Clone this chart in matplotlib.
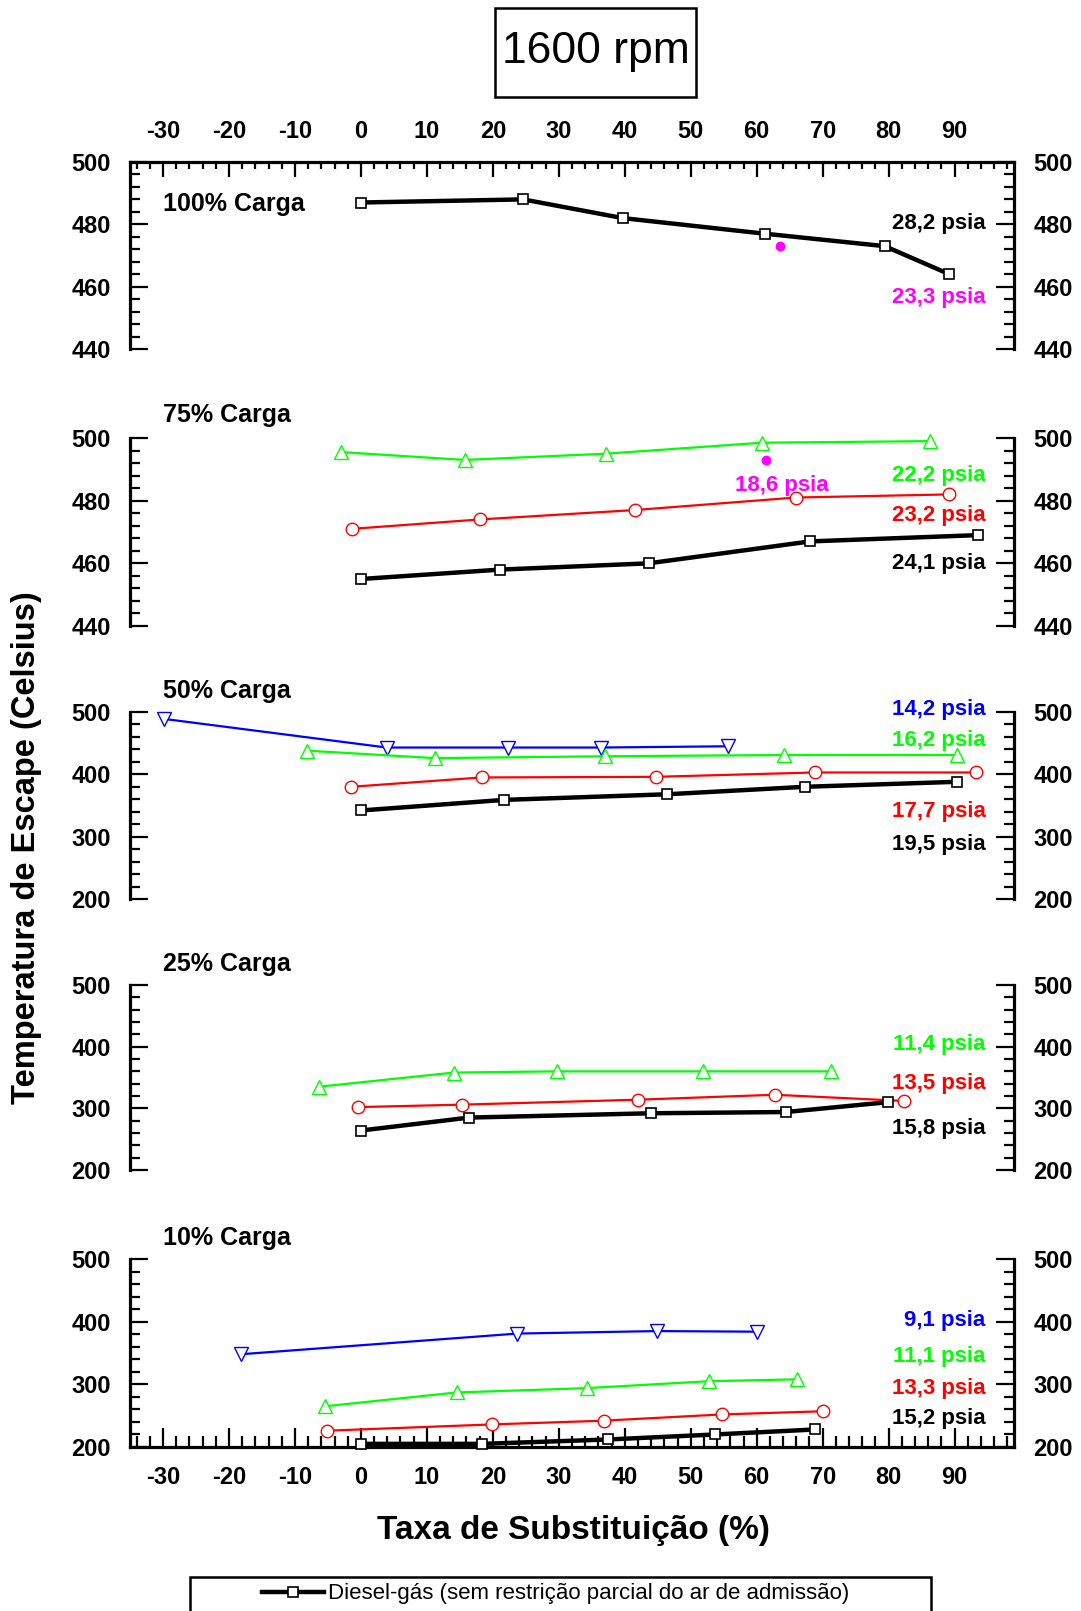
# 1600 rpm - temperatura de escape x taxa de substituicao
import matplotlib.pyplot as plt
from matplotlib.patches import Rectangle
from matplotlib.ticker import MultipleLocator
from matplotlib.lines import Line2D

plt.rcParams['font.family'] = ['Liberation Sans', 'DejaVu Sans']
plt.rcParams['axes.unicode_minus'] = False

# dados (taxa de substituicao %, temperatura C)
# 100% carga
x100_preto = [0, 24.6, 39.7, 61.2, 79.4, 89.2]
t100_preto = [487, 488, 482, 477, 473, 464]
x100_mag = [63.6]
t100_mag = [473]

# 75% carga
x75_preto = [0, 21.1, 43.6, 68.1, 93.5]
t75_preto = [455, 458, 460, 467, 469]
x75_verm = [-1.4, 18.0, 41.5, 65.9, 89.2]
t75_verm = [471, 474, 477, 481, 482]
x75_verde = [-3.0, 15.8, 37.2, 60.8, 86.2]
t75_verde = [495.5, 493, 495, 498.5, 499]
x75_mag = [61.4]
t75_mag = [493]

# 50% carga
x50_preto = [0, 21.7, 46.4, 67.3, 90.3]
t50_preto = [342, 359, 368, 380, 388]
x50_verm = [-1.5, 18.3, 44.7, 68.8, 93.3]
t50_verm = [380, 395, 396, 403, 403]
x50_verde = [-8.2, 11.2, 37.0, 64.2, 90.3]
t50_verde = [438, 426, 429, 431, 431]
x50_azul = [-29.9, 3.9, 22.3, 36.4, 55.7]
t50_azul = [489, 443, 443, 443, 445]

# 25% carga
x25_preto = [0, 16.4, 44.0, 64.4, 79.9]
t25_preto = [264, 285, 292, 294, 310]
x25_verm = [-0.4, 15.4, 42.0, 62.7, 82.3]
t25_verm = [302, 306, 314, 322, 312]
x25_verde = [-6.4, 14.1, 29.7, 51.9, 71.3]
t25_verde = [335, 358, 360, 360, 360]

# 10% carga
x10_preto = [0, 18.4, 37.5, 53.7, 68.9]
t10_preto = [205, 205, 212, 220, 228]
x10_verm = [-5.1, 19.8, 36.8, 54.8, 70.0]
t10_verm = [226, 236, 242, 252, 257]
x10_verde = [-5.4, 14.5, 34.3, 52.8, 66.1]
t10_verde = [265, 287, 294, 305, 308]
x10_azul = [-18.2, 23.7, 44.9, 60.0]
t10_azul = [348, 381, 385, 384]

cargas = ['100% Carga', '75% Carga', '50% Carga', '25% Carga', '10% Carga']
xticks = list(range(-30, 100, 10))

PRETO = 'black'
VERM = '#FF0000'
VERDE = '#00FF00'
AZUL = '#0000FF'
MAG = '#FF00FF'

paineis = [
    dict(ylim=(440, 500), yt=20, series=[('p', x100_preto, t100_preto), ('m', x100_mag, t100_mag)],
         rotulo_y=486.4,
         textos=[('28,2 psia', PRETO, 94.7, 480.4), ('23,3 psia', MAG, 94.7, 456.4)]),
    dict(ylim=(440, 500), yt=20,
         series=[('g', x75_verde, t75_verde), ('r', x75_verm, t75_verm), ('p', x75_preto, t75_preto),
                 ('m', x75_mag, t75_mag)],
         rotulo_y=507.4,
         textos=[('22,2 psia', VERDE, 94.7, 487.9), ('23,2 psia', VERM, 94.7, 475.4),
                 ('24,1 psia', PRETO, 94.7, 459.8), ('18,6 psia', MAG, 63.8, 485.0)]),
    dict(ylim=(200, 500), yt=100,
         series=[('b', x50_azul, t50_azul), ('g', x50_verde, t50_verde), ('r', x50_verm, t50_verm),
                 ('p', x50_preto, t50_preto)],
         rotulo_y=534,
         textos=[('14,2 psia', AZUL, 94.7, 504.8), ('16,2 psia', VERDE, 94.7, 455),
                 ('17,7 psia', VERM, 94.7, 341), ('19,5 psia', PRETO, 94.7, 287)]),
    dict(ylim=(200, 500), yt=100,
         series=[('g', x25_verde, t25_verde), ('r', x25_verm, t25_verm), ('p', x25_preto, t25_preto)],
         rotulo_y=534,
         textos=[('11,4 psia', VERDE, 94.7, 403), ('13,5 psia', VERM, 94.7, 341),
                 ('15,8 psia', PRETO, 94.7, 267)]),
    dict(ylim=(200, 500), yt=100,
         series=[('b', x10_azul, t10_azul), ('g', x10_verde, t10_verde), ('r', x10_verm, t10_verm),
                 ('p', x10_preto, t10_preto)],
         rotulo_y=534,
         textos=[('9,1 psia', AZUL, 94.7, 402), ('11,1 psia', VERDE, 94.7, 344),
                 ('13,3 psia', VERM, 94.7, 294), ('15,2 psia', PRETO, 94.7, 246)]),
]

estilos = {
    'p': dict(color=PRETO, lw=3.2, marker='s', ms=6.5, mfc='white', mec=PRETO, mew=1.2, zorder=5),
    'r': dict(color=VERM, lw=1.6, marker='o', ms=9, mfc='white', mec=VERM, mew=1.0, zorder=4),
    'g': dict(color=VERDE, lw=1.6, marker='^', ms=10, mfc='white', mec=VERDE, mew=1.0, zorder=3),
    'b': dict(color=AZUL, lw=1.6, marker='v', ms=10, mfc='white', mec=AZUL, mew=1.0, zorder=3),
    'm': dict(color=MAG, lw=0, marker='o', ms=6, mfc=MAG, mec=MAG, zorder=6),
}

W, H = 1081, 1611
fig = plt.figure(figsize=(W / 100, H / 100), dpi=100)

topos = [162, 438, 712, 985, 1259]
bases = [349, 626, 899, 1170, 1447]
esq, dir_ = 130, 1014

for i, p in enumerate(paineis):
    ax = fig.add_axes([esq / W, 1 - bases[i] / H, (dir_ - esq) / W, (bases[i] - topos[i]) / H])
    for k, xs, ys in p['series']:
        ax.plot(xs, ys, clip_on=False, **estilos[k])
    ax.set_xlim(-35, 99)
    ax.set_ylim(*p['ylim'])
    ax.yaxis.set_major_locator(MultipleLocator(p['yt']))
    ax.yaxis.set_minor_locator(MultipleLocator(p['yt'] / 5))
    ax.set_xticks(xticks)
    ax.xaxis.set_minor_locator(MultipleLocator(2))
    for s in ax.spines.values():
        s.set_linewidth(2.3)
    ax.spines['top'].set_visible(i == 0)
    ax.spines['bottom'].set_visible(i == 4)
    ax.tick_params(axis='y', which='both', left=True, right=True, labelleft=True, labelright=True,
                   labelsize=17, direction='in', width=1.6, pad=14)
    ax.tick_params(axis='y', which='major', length=13)
    ax.tick_params(axis='y', which='minor', length=7)
    for lab in ax.get_yticklabels():
        lab.set_fontweight('bold')
    if i == 0:
        ax.tick_params(axis='x', which='both', top=True, bottom=False, labeltop=True, labelbottom=False,
                       direction='in', labelsize=17, width=1.6, pad=14)
        ax.tick_params(axis='x', which='major', length=11)
        ax.tick_params(axis='x', which='minor', length=5)
    elif i == 4:
        ax.tick_params(axis='x', which='both', top=False, bottom=True, labelbottom=True,
                       direction='in', labelsize=17, width=1.6, pad=14)
        ax.tick_params(axis='x', which='major', length=14)
        ax.tick_params(axis='x', which='minor', length=8)
    else:
        ax.tick_params(axis='x', which='both', top=False, bottom=False, labelbottom=False)
    for lab in ax.get_xticklabels():
        lab.set_fontweight('bold')
    ax.text(-30, p['rotulo_y'], cargas[i], fontsize=18, fontweight='bold', ha='left', va='center',
            clip_on=False)
    for txt, cor, tx, ty in p['textos']:
        ha = 'center' if cor == MAG and tx < 90 else 'right'
        ax.text(tx, ty, txt, color=cor, fontsize=16, fontweight='bold',
                ha=ha, va='center', clip_on=False, zorder=7)
    ax.patch.set_alpha(0)

# titulo em caixa
fig.patches.append(Rectangle((495 / W, 1 - 97 / H), 201 / W, 89 / H, transform=fig.transFigure,
                             fill=False, lw=1.8, ec='black'))
fig.text(595.5 / W, 1 - 52 / H, '1600 rpm', fontsize=32, ha='center', va='center')

fig.text(27 / W, 1 - 848 / H, 'Temperatura de Escape (Celsius)', rotation=90, fontsize=23.5,
         fontweight='bold', ha='center', va='center')
fig.text(573 / W, 1 - 1531 / H, 'Taxa de Substituição (%)', fontsize=24, fontweight='bold',
         ha='center', va='center')

# legenda (cortada na borda inferior)
fig.patches.append(Rectangle((190 / W, -0.02), 741 / W, 0.02 + (1611 - 1577) / H,
                             transform=fig.transFigure, fill=False, lw=1.8, ec='black'))
h = Line2D([], [], **{k: v for k, v in estilos['p'].items() if k != 'zorder'})
fig.legend(handles=[h], labels=['Diesel-gás (sem restrição parcial do ar de admissão)'],
           loc='center left', bbox_to_anchor=(262 / W, 1 - 1594 / H), frameon=False, borderpad=0,
           borderaxespad=0, handlelength=2.8, handletextpad=0.15, fontsize=16)

fig.savefig('out.png', dpi=100)
